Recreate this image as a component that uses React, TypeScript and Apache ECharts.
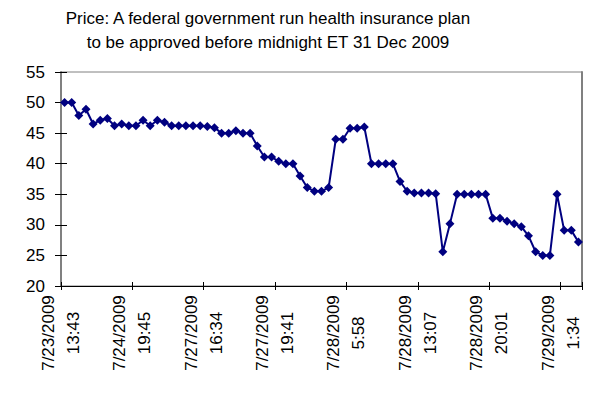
import React, { useEffect, useRef } from "react";
import * as echarts from "echarts";

const titleText =
  "Price: A federal government run health insurance plan\nto be approved before midnight ET 31 Dec 2009";

const tickLabels = [
  "7/23/2009\n13:43",
  "7/24/2009\n19:45",
  "7/27/2009\n16:34",
  "7/27/2009\n19:41",
  "7/28/2009\n5:58",
  "7/28/2009\n13:07",
  "7/28/2009\n20:01",
  "7/29/2009\n1:34",
];

const prices = [
  50, 50, 47.9, 48.9, 46.5, 47.1, 47.4, 46.2, 46.5, 46.2,
  46.2, 47.1, 46.2, 47.1, 46.8, 46.2, 46.2, 46.2, 46.2, 46.2,
  46.1, 45.9, 45, 45, 45.4, 45, 45, 42.9, 41.1, 41.1,
  40.4, 40, 40, 38, 36.1, 35.5, 35.5, 36.1, 44, 44,
  45.8, 45.8, 46, 40, 40, 40, 40, 37.1, 35.5, 35.2,
  35.2, 35.2, 35.1, 25.6, 30.2, 35, 35, 35, 35, 35,
  31.1, 31.1, 30.6, 30.2, 29.7, 28.2, 25.6, 25, 25, 35,
  29.1, 29.1, 27.2,
];

const categories = prices.map((_, i) => String(i + 1));
const labelEvery = 10;
const yMin = 20;
const yMax = 55;
const yStep = 5;

const FONT = "'Liberation Sans', Arial, sans-serif";

export default function App() {
  const ref = useRef<HTMLDivElement>(null);

  useEffect(() => {
    document.body.style.margin = "0";
    if (!ref.current) return;
    const chart = echarts.init(ref.current, undefined, { renderer: "svg" });
    chart.setOption({
      animation: false,
      backgroundColor: "#ffffff",
      textStyle: { fontFamily: FONT },
      graphic: [
        {
          type: "text",
          x: 268,
          y: 6,
          style: {
            text: titleText,
            align: "center",
            verticalAlign: "top",
            fontSize: 17,
            lineHeight: 24,
            fontFamily: FONT,
            fill: "#000000",
          },
        },
      ],
      grid: {
        left: 61,
        right: 12,
        top: 72,
        bottom: 107,
        show: true,
        borderColor: "#808080",
        borderWidth: 1,
        backgroundColor: "#ffffff",
      },
      xAxis: [
        {
          type: "category",
          data: categories,
          boundaryGap: true,
          position: "bottom",
          axisLine: { show: true, lineStyle: { color: "#000000", width: 1 } },
          axisTick: {
            show: true,
            interval: labelEvery - 1,
            length: 4,
            inside: false,
            lineStyle: { color: "#000000" },
          },
          axisLabel: { show: false },
          splitLine: { show: false },
        },
        {
          type: "category",
          data: categories,
          boundaryGap: true,
          position: "bottom",
          axisLine: { show: false },
          axisTick: {
            show: true,
            interval: labelEvery - 1,
            length: 4,
            inside: true,
            lineStyle: { color: "#000000" },
          },
          axisLabel: { show: false },
          splitLine: { show: false },
        },
        {
          type: "value",
          min: 0,
          max: prices.length,
          interval: labelEvery,
          position: "bottom",
          axisLine: { show: false },
          axisTick: { show: false },
          splitLine: { show: false },
          axisLabel: {
            show: true,
            rotate: 90,
            align: "center",
            verticalAlign: "middle",
            margin: 47,
            fontSize: 17,
            lineHeight: 25,
            color: "#000000",
            fontFamily: FONT,
            showMaxLabel: false,
            formatter: (v: number) => {
              const idx = v / labelEvery;
              return Number.isInteger(idx) && idx < tickLabels.length ? tickLabels[idx] : "";
            },
          },
        },
      ],
      yAxis: [
        {
          type: "value",
          min: yMin,
          max: yMax,
          interval: yStep,
          position: "left",
          axisLine: { show: true, lineStyle: { color: "#808080", width: 2 } },
          axisTick: { show: true, length: 6, inside: false, lineStyle: { color: "#000000" } },
          axisLabel: { fontSize: 17, color: "#000000", margin: 16, fontFamily: FONT },
          splitLine: { show: false },
        },
        {
          type: "value",
          min: yMin,
          max: yMax,
          interval: yStep,
          position: "left",
          axisLine: { show: false },
          axisTick: { show: true, length: 6, inside: true, lineStyle: { color: "#000000" } },
          axisLabel: { show: false },
          splitLine: { show: false },
        },
        {
          type: "value",
          min: yMin,
          max: yMax,
          interval: yStep,
          position: "right",
          axisLine: { show: true, lineStyle: { color: "#808080", width: 2 } },
          axisTick: { show: false },
          axisLabel: { show: false },
          splitLine: { show: false },
        },
      ],
      series: [
        {
          type: "line",
          data: prices,
          xAxisIndex: 0,
          yAxisIndex: 0,
          symbol: "diamond",
          symbolSize: 9,
          showSymbol: true,
          showAllSymbol: true,
          lineStyle: { color: "#000080", width: 2 },
          itemStyle: { color: "#000080", borderWidth: 0 },
          emphasis: { disabled: true },
        },
      ],
    });
    return () => chart.dispose();
  }, []);

  return <div ref={ref} style={{ width: 594, height: 393 }} />;
}
